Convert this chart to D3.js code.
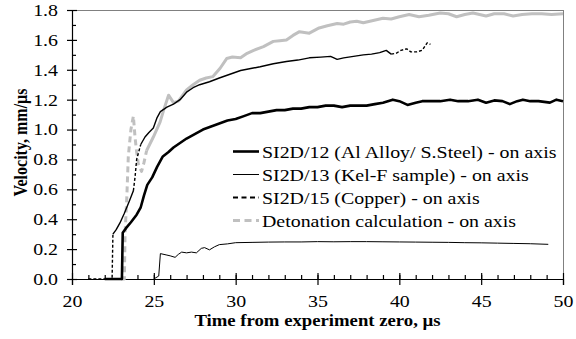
<!DOCTYPE html>
<html>
<head>
<meta charset="utf-8">
<script src="https://cdn.jsdelivr.net/npm/d3@7"></script>
<style>
  body { margin: 0; background: #fff; }
  text { font-family: "Liberation Serif", "Times New Roman", serif; fill: #000; }
</style>
</head>
<body>
<div id="chart"></div>
<script>
// series: [time (us), velocity (mm/us)]
var alloyData = [[22.0,0],[23.05,0],[23.1,0.31],[23.3,0.34],[23.6,0.38],[23.95,0.43],[24.2,0.48],[24.4,0.56],[24.6,0.63],[24.9,0.68],[25.2,0.75],[25.55,0.82],[25.9,0.85],[26.2,0.88],[26.6,0.91],[27.0,0.94],[27.5,0.97],[28.0,1.0],[28.5,1.02],[29.0,1.04],[29.5,1.06],[30.0,1.07],[30.5,1.09],[31.0,1.11],[31.5,1.11],[32.0,1.12],[32.5,1.13],[33.0,1.13],[33.5,1.14],[34.0,1.14],[34.5,1.15],[35.0,1.15],[35.5,1.16],[36.0,1.16],[36.5,1.15],[37.0,1.16],[37.5,1.16],[38.0,1.16],[38.5,1.17],[39.0,1.18],[39.6,1.20],[40.0,1.19],[40.5,1.165],[41.0,1.18],[41.4,1.19],[42.0,1.19],[42.5,1.19],[43.1,1.20],[43.6,1.19],[44.2,1.19],[44.8,1.20],[45.3,1.18],[45.8,1.195],[46.3,1.19],[46.75,1.17],[47.2,1.19],[47.55,1.20],[48.0,1.19],[48.5,1.19],[49.2,1.18],[49.6,1.20],[50.0,1.19]];

var kelfData = [[25.0,0],[25.3,0.02],[25.4,0.17],[25.8,0.16],[26.0,0.155],[26.3,0.145],[26.5,0.165],[26.7,0.18],[27.0,0.175],[27.3,0.18],[27.6,0.175],[27.9,0.205],[28.1,0.21],[28.4,0.195],[28.7,0.215],[29.0,0.23],[29.5,0.235],[30.0,0.243],[31,0.245],[32,0.247],[33,0.248],[34,0.248],[35,0.25],[36,0.249],[37,0.25],[38,0.25],[39,0.249],[40,0.248],[41,0.247],[42,0.246],[43,0.245],[44,0.243],[45,0.242],[46,0.24],[47,0.238],[48,0.236],[49.1,0.232]];

var copperData = [[21.0,0],[22.45,0],[22.5,0.30],[22.7,0.33],[22.93,0.375],[23.2,0.44],[23.5,0.52],[23.75,0.59],[23.85,0.68],[23.95,0.80],[24.2,0.90],[24.46,0.95],[24.7,0.98],[24.97,1.01],[25.2,1.08],[25.4,1.12],[25.8,1.15],[26.2,1.17],[26.6,1.20],[27.0,1.25],[27.4,1.28],[27.8,1.30],[28.4,1.32],[29.0,1.345],[29.65,1.37],[30.3,1.395],[31.0,1.41],[31.5,1.42],[32.3,1.44],[33.1,1.455],[33.8,1.465],[34.5,1.48],[35.2,1.485],[35.8,1.49],[36.2,1.47],[36.6,1.48],[37.2,1.49],[37.8,1.50],[38.3,1.505],[38.8,1.515],[39.2,1.53],[39.5,1.505],[39.8,1.51],[40.1,1.53],[40.45,1.54],[40.7,1.52],[41.06,1.52],[41.4,1.53],[41.7,1.58],[41.9,1.57]];

var detonationData = [[23.0,0],[23.2,0],[23.24,0.3],[23.35,0.55],[23.44,0.82],[23.6,1.0],[23.75,1.09],[23.85,0.95],[23.95,0.85],[24.05,0.77],[24.25,0.72],[24.4,0.78],[24.56,0.86],[24.97,0.95],[25.38,1.05],[25.6,1.13],[25.9,1.23],[26.2,1.18],[26.5,1.19],[27.0,1.265],[27.4,1.3],[27.8,1.33],[28.2,1.345],[28.6,1.354],[29.05,1.41],[29.45,1.475],[29.8,1.485],[30.3,1.48],[30.7,1.51],[31.1,1.53],[31.7,1.555],[32.3,1.59],[32.7,1.595],[33.1,1.60],[33.5,1.63],[33.9,1.655],[34.5,1.645],[35.1,1.68],[35.6,1.695],[36.2,1.71],[36.6,1.705],[37.0,1.72],[37.4,1.725],[37.8,1.715],[38.4,1.73],[39.0,1.745],[39.5,1.74],[40.0,1.755],[40.6,1.77],[41.2,1.755],[41.8,1.765],[42.5,1.78],[43.0,1.775],[43.5,1.755],[44.0,1.77],[44.5,1.78],[44.9,1.77],[45.3,1.76],[45.8,1.775],[46.4,1.775],[46.95,1.76],[47.5,1.77],[48.1,1.775],[48.7,1.775],[49.3,1.77],[50.0,1.775]];

// time ranges where the trace shows up broken / dashed
var copperDashed = [[21.0,22.6],[23.75,24.2],[39.4,42.0]];
var detonationDashed = [[23.0,24.7]];

var xTicks = [20, 25, 30, 35, 40, 45, 50];
var yTicks = [0, 0.2, 0.4, 0.6, 0.8, 1.0, 1.2, 1.4, 1.6, 1.8];
var legendLabels = ["SI2D/12 (Al Alloy/ S.Steel) - on axis", "SI2D/13 (Kel-F sample) - on axis",
                    "SI2D/15 (Copper) - on axis", "Detonation calculation - on axis"];

var svgWidth = 576;
var svgHeight = 339;
var margin = { top: 10, right: 13, bottom: 60, left: 72 };
var width = svgWidth - margin.left - margin.right;
var height = svgHeight - margin.top - margin.bottom;

// the original picture is a bit wider than tall, so type is widened
var stretch = 1.17;
function widen(sel) {
    sel.each(function () {
        var t = d3.select(this);
        var x = +t.attr("x") || 0;
        t.attr("transform", `translate(${x},0) scale(${stretch},1) translate(${-x},0)`);
    });
}

var svg = d3.select("#chart").append("svg")
    .attr("width", svgWidth)
    .attr("height", svgHeight);

var chartGroup = svg.append("g")
    .attr("transform", `translate(${margin.left}, ${margin.top})`);

var xScale = d3.scaleLinear().domain([20, 50]).range([0, width]);
var yScale = d3.scaleLinear().domain([0, 1.8]).range([height, 0]);

// top / right frame
chartGroup.append("line").attr("x1", 0).attr("x2", width).attr("y1", 0.5).attr("y2", 0.5)
    .attr("stroke", "#808080");
chartGroup.append("line").attr("x1", width + 0.5).attr("x2", width + 0.5).attr("y1", 0).attr("y2", height)
    .attr("stroke", "#808080");

// minor ticks
chartGroup.append("g")
    .attr("transform", `translate(0, ${height})`)
    .call(d3.axisBottom(xScale).tickValues(d3.range(21, 50, 1)).tickSize(-4).tickFormat(""))
    .call(g => g.select(".domain").remove());
chartGroup.append("g")
    .call(d3.axisLeft(yScale).tickValues(d3.range(0.1, 1.8, 0.2)).tickSize(-4).tickFormat(""))
    .call(g => g.select(".domain").remove());

// major axes
var bottomAxis = d3.axisBottom(xScale).tickValues(xTicks).tickSizeOuter(0).tickSize(6).tickPadding(10)
    .tickFormat(d3.format("d"));
var leftAxis = d3.axisLeft(yScale).tickValues(yTicks).tickSizeOuter(0).tickSize(5).tickPadding(9)
    .tickFormat(d3.format(".1f"));

chartGroup.append("g")
    .attr("transform", `translate(0, ${height})`)
    .call(bottomAxis)
    .call(g => g.selectAll(".tick line").attr("y1", -6).attr("y2", 6))
    .call(g => g.selectAll("text").style("font-size", "17px").call(widen));

chartGroup.append("g")
    .call(leftAxis)
    .call(g => g.selectAll(".tick line").attr("x1", 5).attr("x2", -5))
    .call(g => g.selectAll("text").style("font-size", "17px").call(widen));

chartGroup.selectAll(".domain, .tick line").attr("stroke", "#000").attr("stroke-width", 1.2);

// split a series into solid and dashed runs
function splitRuns(data, ranges) {
    var inDash = t => ranges.some(r => t >= r[0] && t <= r[1]);
    var runs = [];
    var cur = null;
    for (var i = 0; i < data.length - 1; i++) {
        var dashed = inDash(data[i][0]) && inDash(data[i + 1][0]);
        if (!cur || cur.dashed !== dashed) {
            cur = { dashed: dashed, pts: [data[i]] };
            runs.push(cur);
        }
        cur.pts.push(data[i + 1]);
    }
    return runs;
}

var line = d3.line()
    .x(d => xScale(d[0]))
    .y(d => yScale(d[1]));

var series = [
    { data: detonationData, dashed: detonationDashed, color: "#c0c0c0", width: 3, dash: "6,4" },
    { data: kelfData, dashed: [], color: "#000", width: 1, dash: null },
    { data: alloyData, dashed: [], color: "#000", width: 2.6, dash: null },
    { data: copperData, dashed: copperDashed, color: "#000", width: 1.4, dash: "3,2" }
];

series.forEach(function (s) {
    splitRuns(s.data, s.dashed).forEach(function (run) {
        chartGroup.append("path")
            .attr("d", line(run.pts))
            .attr("fill", "none")
            .attr("stroke", s.color)
            .attr("stroke-width", s.width)
            .attr("stroke-linejoin", "round")
            .attr("stroke-dasharray", run.dashed ? s.dash : null);
    });
});

// legend
var legendStyles = [
    { color: "#000", width: 2.6, dash: null },
    { color: "#000", width: 1, dash: null },
    { color: "#000", width: 2, dash: "5,3.5" },
    { color: "#c0c0c0", width: 3, dash: "7,4.5" }
];
var legend = chartGroup.append("g").attr("transform", "translate(161, 141.5)");
legendLabels.forEach(function (label, i) {
    var row = legend.append("g").attr("transform", `translate(0, ${i * 23})`);
    row.append("line")
        .attr("x1", 0).attr("x2", 26).attr("y1", 0).attr("y2", 0)
        .attr("stroke", legendStyles[i].color)
        .attr("stroke-width", legendStyles[i].width)
        .attr("stroke-dasharray", legendStyles[i].dash);
    row.append("text")
        .attr("x", 29).attr("y", 6)
        .style("font-size", "17px")
        .text(label)
        .call(widen);
});

// axis titles
chartGroup.append("text")
    .attr("transform", `translate(${-margin.left + 20}, ${height / 2 - 2}) scale(${stretch},1) rotate(-90)`)
    .attr("text-anchor", "middle")
    .attr("dy", "0.35em")
    .style("font-size", "16px")
    .style("font-weight", "bold")
    .text("Velocity, mm/µs");

chartGroup.append("text")
    .attr("x", width / 2)
    .attr("y", height + 47)
    .attr("text-anchor", "middle")
    .style("font-size", "16px")
    .style("font-weight", "bold")
    .text("Time from experiment zero, µs")
    .call(widen);
</script>
</body>
</html>
